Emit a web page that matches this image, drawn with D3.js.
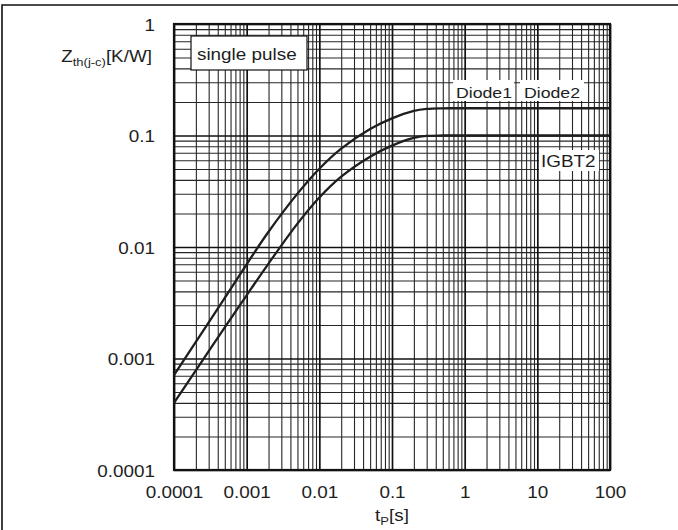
<!DOCTYPE html>
<html><head><meta charset="utf-8">
<script src="https://cdn.jsdelivr.net/npm/d3@7"></script>
<style>
html,body{margin:0;padding:0;background:#fff;}
svg{display:block;}
text{font-family:"Liberation Sans",Arial,sans-serif;fill:#1e1e1e;}
</style></head>
<body>
<svg id="c" width="678" height="530"></svg>
<script>
// ---- data ----
const tP     = [1e-4, 2e-4, 5e-4, 1e-3, 2e-3, 5e-3, 0.01, 0.02, 0.05, 0.1, 0.2, 0.3, 0.5, 1, 10, 100];
const diode  = [7.1e-4, 1.41e-3, 3.5e-3, 7.0e-3, 0.0137, 0.0301, 0.0504, 0.0764, 0.1143, 0.1426, 0.166, 0.173, 0.1754, 0.1755, 0.1755, 0.1755];
const igbt   = [4.0e-4, 7.83e-4, 1.90e-3, 3.69e-3, 7.10e-3, 0.0162, 0.0278, 0.0428, 0.0646, 0.0811, 0.0951, 0.0991, 0.1, 0.1, 0.1, 0.1];
const xTickLabels = ["0.0001","0.001","0.01","0.1","1","10","100"];
const yTickLabels = ["0.0001","0.001","0.01","0.1","1"];
const xMajor = [1e-4,1e-3,1e-2,0.1,1,10,100];
const yMajor = [1e-4,1e-3,1e-2,0.1,1];

const svg = d3.select("#c");
const L=174, R=610, T=24, B=470;
const x = d3.scaleLog().domain([1e-4,100]).range([L,R]);
const y = d3.scaleLog().domain([1e-4,1]).range([B,T]);
const SX = 1.18;

// outer frame (top and left edges)
svg.append("path").attr("d","M2,700 L2,5 L700,5").attr("fill","none").attr("stroke","#111").attr("stroke-width",1.6);

function minors(majors){
  const out=[];
  for(let i=0;i<majors.length-1;i++) for(let k=2;k<=9;k++) out.push(majors[i]*k);
  return out;
}

// minor grid
svg.append("g").attr("transform",`translate(0,${B})`)
  .call(d3.axisBottom(x).tickValues(minors(xMajor)).tickSize(-(B-T)).tickFormat(""))
  .call(g=>{g.select(".domain").remove(); g.selectAll("line").attr("stroke","#262626").attr("stroke-width",1.1);});
svg.append("g").attr("transform",`translate(${L},0)`)
  .call(d3.axisLeft(y).tickValues(minors(yMajor)).tickSize(-(R-L)).tickFormat(""))
  .call(g=>{g.select(".domain").remove(); g.selectAll("line").attr("stroke","#262626").attr("stroke-width",1.1);});
// major grid
svg.append("g").attr("transform",`translate(0,${B})`)
  .call(d3.axisBottom(x).tickValues(xMajor).tickSize(-(B-T)).tickFormat(""))
  .call(g=>{g.select(".domain").remove(); g.selectAll("line").attr("stroke","#111").attr("stroke-width",1.7);});
svg.append("g").attr("transform",`translate(${L},0)`)
  .call(d3.axisLeft(y).tickValues(yMajor).tickSize(-(R-L)).tickFormat(""))
  .call(g=>{g.select(".domain").remove(); g.selectAll("line").attr("stroke","#111").attr("stroke-width",1.7);});

// plot border
svg.append("rect").attr("x",L).attr("y",T).attr("width",R-L).attr("height",B-T)
  .attr("fill","none").attr("stroke","#111").attr("stroke-width",2.2);

// tick labels
const xa = svg.append("g").attr("transform",`translate(0,${B})`)
  .call(d3.axisBottom(x).tickValues(xMajor).tickSize(0).tickFormat((d,i)=>xTickLabels[i]));
xa.select(".domain").remove();
xa.selectAll("text").attr("y",28).attr("dy",0).attr("font-size",16).attr("fill","#1e1e1e")
  .attr("font-family","'Liberation Sans',Arial,sans-serif").attr("transform",`scale(${SX},1)`);

const ya = svg.append("g").attr("transform",`translate(${L},0)`)
  .call(d3.axisLeft(y).tickValues(yMajor).tickSize(0).tickFormat((d,i)=>yTickLabels[i]));
ya.select(".domain").remove();
ya.selectAll("text").attr("x",-19/SX).attr("dy",0).attr("y",6).attr("font-size",16).attr("fill","#1e1e1e")
  .attr("font-family","'Liberation Sans',Arial,sans-serif").attr("transform",`scale(${SX},1)`);

// curves
const line = d3.line().x(d=>x(d[0])).y(d=>y(d[1])).curve(d3.curveCatmullRom.alpha(0.5));
[diode, igbt].forEach(s=>{
  svg.append("path").datum(tP.map((t,i)=>[t,s[i]])).attr("d",line)
    .attr("fill","none").attr("stroke","#1e1e1e").attr("stroke-width",2.3);
});

// text helper with horizontal stretch
function label(px,py,txt,size,anchor){
  const g = svg.append("g").attr("transform",`translate(${px},${py}) scale(${SX},1)`);
  return g.append("text").attr("font-size",size).attr("text-anchor",anchor||"start").text(txt);
}

// single pulse box
svg.append("rect").attr("x",191).attr("y",36).attr("width",116).attr("height",34)
  .attr("fill","#fff").attr("stroke","#111").attr("stroke-width",1.2);
label(197,60,"single pulse",16);

// curve labels with white backgrounds
svg.append("rect").attr("x",453).attr("y",80).attr("width",61).attr("height",21).attr("fill","#fff");
svg.append("rect").attr("x",520).attr("y",80).attr("width",64).attr("height",21).attr("fill","#fff");
svg.append("rect").attr("x",539).attr("y",150).attr("width",60).attr("height",21).attr("fill","#fff");
label(456,98,"Diode1",15);
label(524,98,"Diode2",15);
label(541,167,"IGBT2",16);

// y axis title
const yt = svg.append("g").attr("transform",`translate(152,62) scale(${SX},1)`)
  .append("text").attr("font-size",16).attr("text-anchor","end");
yt.append("tspan").text("Z");
yt.append("tspan").attr("font-size",11).attr("dy",4).text("th(j-c)");
yt.append("tspan").attr("dy",-4).text("[K/W]");

// x axis title
const xt = svg.append("g").attr("transform",`translate(392,521) scale(${SX},1)`)
  .append("text").attr("font-size",16).attr("text-anchor","middle");
xt.append("tspan").text("t");
xt.append("tspan").attr("font-size",11).attr("dy",4).text("P");
xt.append("tspan").attr("dy",-4).text("[s]");
</script>
</body></html>
